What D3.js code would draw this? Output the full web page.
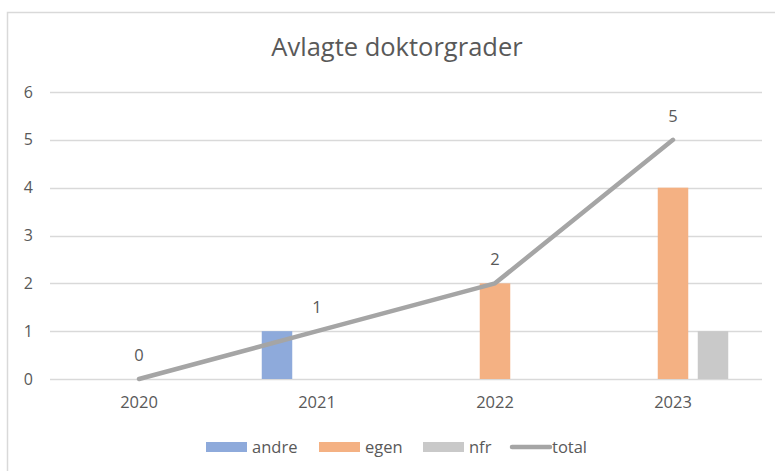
<!DOCTYPE html>
<html>
<head>
<meta charset="utf-8">
<script src="https://cdn.jsdelivr.net/npm/d3@7"></script>
<style>
  body { margin: 0; background: #fff; }
  svg { display: block; }
  text { font-family: "Open Sans", "Noto Sans", sans-serif; fill: #595959; }
</style>
</head>
<body>
<div id="chart"></div>
<script>
// chart data
var years = ["2020", "2021", "2022", "2023"];
var seriesNames = ["andre", "egen", "nfr"];
var andre = [0, 1, 0, 0];
var egen = [0, 0, 2, 4];
var nfr = [0, 0, 0, 1];
var total = [0, 1, 2, 5];
var yTicks = [0, 1, 2, 3, 4, 5, 6];

var colors = { andre: "#8eaadb", egen: "#f4b183", nfr: "#c9c9c9", total: "#a5a5a5" };

var width = 775, height = 471;
var margin = { top: 92, right: 13, bottom: 92, left: 50 };

var svg = d3.select("#chart").append("svg")
    .attr("width", width)
    .attr("height", height);

// outer chart frame (right/bottom run off the picture)
svg.append("rect")
    .attr("x", 7.5).attr("y", 12.5)
    .attr("width", 800).attr("height", 500)
    .attr("fill", "none")
    .attr("stroke", "#d9d9d9")
    .attr("stroke-width", 1.5);

svg.append("text")
    .attr("x", 397).attr("y", 56)
    .attr("text-anchor", "middle")
    .style("font-size", "25.5px")
    .text("Avlagte doktorgrader");

var x = d3.scaleBand()
    .domain(years)
    .range([margin.left, width - margin.right]);

var y = d3.scaleLinear()
    .domain([0, 6])
    .range([height - margin.bottom, margin.top]);

// bar slots inside each category
var slot = 40, barW = 30.5;

// gridlines
svg.append("g")
    .selectAll("line")
    .data(yTicks)
    .join("line")
    .attr("x1", margin.left)
    .attr("x2", width - margin.right)
    .attr("y1", function(d) { return Math.round(y(d)) + 0.5; })
    .attr("y2", function(d) { return Math.round(y(d)) + 0.5; })
    .attr("stroke", "#d9d9d9")
    .attr("stroke-width", 1.3);

// y axis labels
var yAxis = d3.axisLeft(y).tickValues(yTicks).tickFormat(d3.format("d")).tickSize(0).tickPadding(0);
var gy = svg.append("g")
    .attr("transform", "translate(33,0)")
    .call(yAxis);
gy.select(".domain").remove();
gy.selectAll("text").style("font-size", "16px").attr("fill", "#595959")
    .style("font-family", "\"Open Sans\", sans-serif");

// x axis labels
var xAxis = d3.axisBottom(x).tickSize(0).tickPadding(0);
var gx = svg.append("g")
    .attr("transform", "translate(0," + (height - margin.bottom + 17) + ")")
    .call(xAxis);
gx.select(".domain").remove();
gx.selectAll("text").style("font-size", "16.5px").attr("fill", "#595959")
    .style("font-family", "\"Open Sans\", sans-serif");

// bars
var barData = [];
years.forEach(function(yr, i) {
    barData.push({ year: yr, s: "andre", v: andre[i], k: -1 });
    barData.push({ year: yr, s: "egen", v: egen[i], k: 0 });
    barData.push({ year: yr, s: "nfr", v: nfr[i], k: 1 });
});

svg.append("g")
    .selectAll("rect")
    .data(barData.filter(function(d) { return d.v > 0; }))
    .join("rect")
    .attr("x", function(d) { return x(d.year) + x.bandwidth() / 2 + d.k * slot - barW / 2; })
    .attr("y", function(d) { return y(d.v); })
    .attr("width", barW)
    .attr("height", function(d) { return y(0) - y(d.v); })
    .attr("fill", function(d) { return colors[d.s]; });

// total line
var line = d3.line()
    .x(function(d, i) { return x(years[i]) + x.bandwidth() / 2; })
    .y(function(d) { return y(d); });

svg.append("path")
    .datum(total)
    .attr("d", line)
    .attr("fill", "none")
    .attr("stroke", colors.total)
    .attr("stroke-width", 4.5)
    .attr("stroke-linecap", "round")
    .attr("stroke-linejoin", "round");

// data labels
svg.append("g")
    .selectAll("text")
    .data(total)
    .join("text")
    .attr("x", function(d, i) { return x(years[i]) + x.bandwidth() / 2; })
    .attr("y", function(d) { return y(d) - 18; })
    .attr("text-anchor", "middle")
    .style("font-size", "16.5px")
    .text(function(d) { return d; });

// legend
var legendItems = [
    { name: "andre", x: 206, type: "bar" },
    { name: "egen", x: 319, type: "bar" },
    { name: "nfr", x: 423, type: "bar" },
    { name: "total", x: 510, type: "line" }
];
var lg = svg.append("g").attr("transform", "translate(0,447)");
legendItems.forEach(function(d) {
    if (d.type === "bar") {
        lg.append("rect")
            .attr("x", d.x).attr("y", -5)
            .attr("width", 41).attr("height", 10)
            .attr("fill", colors[d.name]);
    } else {
        lg.append("line")
            .attr("x1", d.x + 2).attr("x2", d.x + 40)
            .attr("y1", 0).attr("y2", 0)
            .attr("stroke", colors.total)
            .attr("stroke-width", 4.5)
            .attr("stroke-linecap", "round");
    }
    lg.append("text")
        .attr("x", d.x + (d.type === "bar" ? 46 : 42))
        .attr("y", 0)
        .attr("dy", "0.35em")
        .style("font-size", "16.5px")
        .text(d.name);
});
</script>
</body>
</html>
